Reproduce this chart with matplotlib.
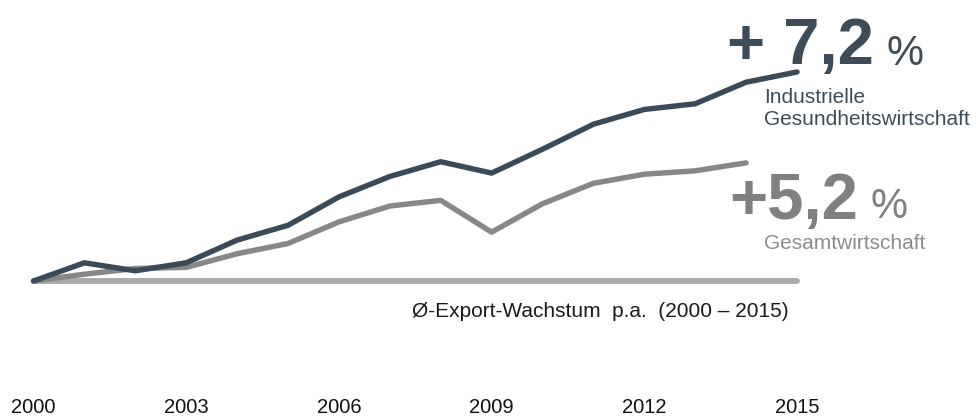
import matplotlib
matplotlib.use("Agg")
import matplotlib.pyplot as plt
from matplotlib.transforms import blended_transform_factory

plt.rcParams['font.family'] = ['Liberation Sans', 'DejaVu Sans']

# Export index (2000 = 100)
years = list(range(2000, 2016))
health_industry = [100, 116, 109, 116, 136, 149, 174, 192, 205, 195, 216, 238, 251, 256, 275, 284]
years_total = list(range(2000, 2015))
total_economy = [100, 106, 111, 112, 124, 133, 152, 166, 171, 143, 168, 186, 194, 197, 204]
baseline_years = [2000, 2015]
baseline_values = [100, 100]
tick_years = [2000, 2003, 2006, 2009, 2012, 2015]
tick_labels = ["2000", "2003", "2006", "2009", "2012", "2015"]

W, H = 976, 419
fig = plt.figure(figsize=(W / 100, H / 100), dpi=100)
ax = fig.add_axes([0, 0, 1, 1])
ax.axis('off')

px_per_year = 763.5 / 15
ax.set_xlim(2000 - 33.5 / px_per_year, 2000 + (W - 33.5) / px_per_year)
k = 1.136  # px per index unit
ax.set_ylim(100 - (H - 281) / k, 100 + 281 / k)

dark = '#3b4a58'
grey = '#878787'
ax.plot(baseline_years, baseline_values, color='#aaaaaa', lw=4.2, solid_capstyle='round', zorder=1)
ax.plot(years_total, total_economy, color=grey, lw=3.9, solid_capstyle='round', zorder=2)
ax.plot(years, health_industry, color=dark, lw=3.9, solid_capstyle='round', zorder=3)

def ftext(x, y, s, **kw):
    fig.text(x / W, 1 - y / H, s, va='baseline', ha=kw.pop('ha', 'left'), **kw)

ftext(727, 64, "+ 7,2", fontsize=47, fontweight='bold', color='#3e4c5a')
ftext(887, 65, "%", fontsize=30, color='#3e4c5a')
ftext(764, 103, "Industrielle", fontsize=15, color='#3e4c5a')
ftext(764, 125, "Gesundheitswirtschaft", fontsize=15, color='#3e4c5a')

ftext(729, 219, "+5,2", fontsize=47, fontweight='bold', color='#808080')
ftext(870, 218, "%", fontsize=30, color='#808080')
ftext(764, 249, "Gesamtwirtschaft", fontsize=15, color='#8c8c8c')

ftext(789, 317, "Ø-Export-Wachstum  p.a.  (2000 – 2015)", fontsize=15, color='#1a1a1a', ha='right')

tr = blended_transform_factory(ax.transData, fig.transFigure)
for yr, lab in zip(tick_years, tick_labels):
    ax.text(yr, 1 - 413 / H, lab, transform=tr, ha='center', va='baseline', fontsize=14.5, color='#111111')

fig.savefig('out.png', dpi=100)
